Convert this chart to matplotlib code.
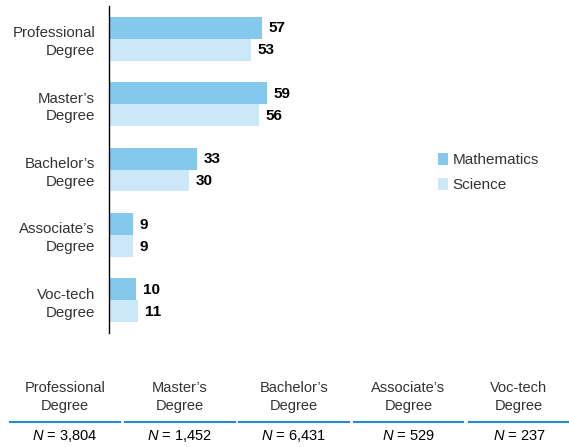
import matplotlib
matplotlib.use('Agg')
from matplotlib import pyplot as plt
from matplotlib.lines import Line2D
import numpy as np

plt.rcParams['font.family'] = ['Liberation Sans', 'DejaVu Sans']
plt.rcParams['mathtext.fontset'] = 'custom'
plt.rcParams['mathtext.it'] = 'Liberation Sans:italic'
plt.rcParams['mathtext.rm'] = 'Liberation Sans'

degrees = ['Professional\nDegree', "Master\u2019s\nDegree", "Bachelor\u2019s\nDegree",
           "Associate\u2019s\nDegree", 'Voc-tech\nDegree']
math_vals = [57, 59, 33, 9, 10]
science_vals = [53, 56, 30, 9, 11]
sample_sizes = ['3,804', '1,452', '6,431', '529', '237']

MATH_COLOR = '#85c8ee'
SCI_COLOR = '#cce8f8'
TEXT_COLOR = '#333333'

fig = plt.figure(figsize=(5.69, 4.47), dpi=100)
ax = fig.add_axes([109 / 569, 1 - 333 / 447, 1 - 109 / 569, 327 / 447])

y = np.arange(len(degrees))
h = 0.336
ax.barh(y - h / 2, math_vals, height=h, color=MATH_COLOR, label='Mathematics')
ax.barh(y + h / 2, science_vals, height=h, color=SCI_COLOR, label='Science')

for i in range(len(degrees)):
    ax.text(math_vals[i] + 2.5, y[i] - h / 2 + 0.01, str(math_vals[i]), va='center', ha='left',
            fontsize=11, fontweight='bold', color='black')
    ax.text(science_vals[i] + 2.5, y[i] + h / 2 + 0.01, str(science_vals[i]), va='center', ha='left',
            fontsize=11, fontweight='bold', color='black')

ax.set_xlim(0, 460 / 2.68)
ax.set_ylim(4.5, -0.5)
ax.set_yticks(y)
ax.set_yticklabels(degrees, fontsize=10.8, color=TEXT_COLOR, linespacing=1.35)
ax.tick_params(axis='y', length=0, pad=10)
ax.set_xticks([])
for side in ['top', 'right', 'bottom']:
    ax.spines[side].set_visible(False)
ax.spines['left'].set_linewidth(1.0)
ax.spines['left'].set_color('black')
ax.patch.set_alpha(0)

ax.legend(loc='upper left', bbox_to_anchor=((424 - 109) / 460, (333 - 139) / 327),
          frameon=False, fontsize=11, handlelength=0.65, handleheight=0.85,
          handletextpad=0.3, labelspacing=0.7, labelcolor=TEXT_COLOR)

# table of sample sizes below the chart
col_left = [10, 125, 239, 354, 469]
col_right = [120, 235, 349, 463, 569]
W, H = 569, 447
for i in range(len(degrees)):
    cx = (col_left[i] + col_right[i]) / 2 / W
    fig.text(cx, 1 - 397 / H, degrees[i], ha='center', va='center', fontsize=10.5,
             color=TEXT_COLOR, linespacing=1.45)
    fig.add_artist(Line2D([col_left[i] / W, col_right[i] / W], [1 - 422 / H, 1 - 422 / H],
                          color='#1f8fd1', linewidth=1.5))
    fig.text(cx, 1 - 436 / H, '$N$ = ' + sample_sizes[i], ha='center', va='center',
             fontsize=10.5, color='black')

fig.savefig('out.png', dpi=100)
